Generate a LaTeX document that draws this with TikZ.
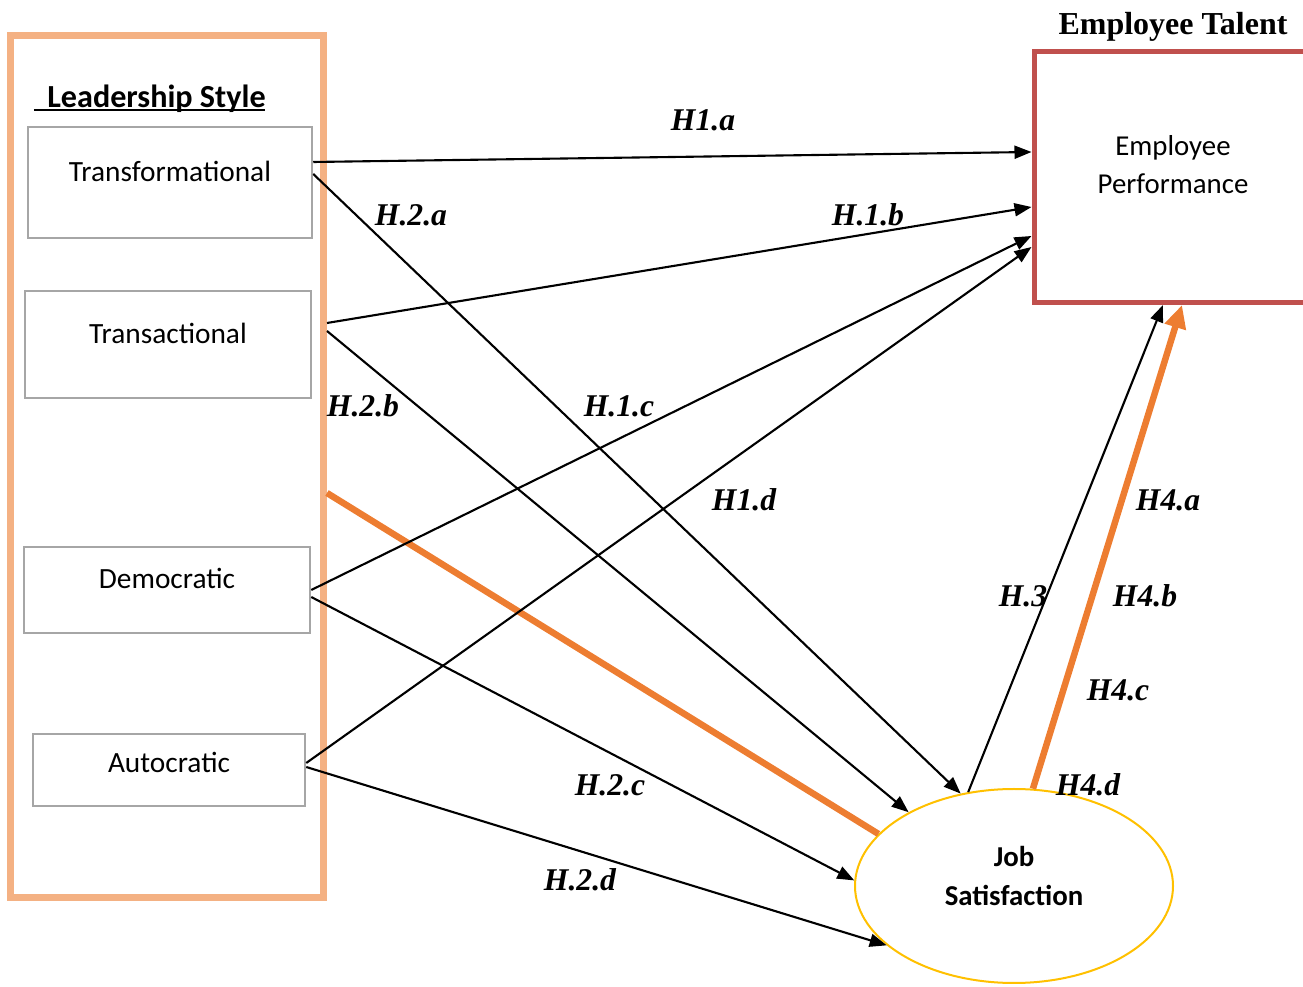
\documentclass[tikz,border=0pt]{standalone}
\usepackage{fontspec}
\setmainfont{Liberation Serif}
\newfontfamily\calibri{Carlito}
\usepackage{xcolor}
\usetikzlibrary{arrows.meta,positioning,calc,shapes.geometric}
\definecolor{frameorange}{HTML}{F4B183}
\definecolor{lineorange}{HTML}{ED7D31}
\definecolor{boxred}{HTML}{C0504D}
\definecolor{ellyellow}{HTML}{FFC000}
\definecolor{boxgray}{HTML}{A6A6A6}

\begin{document}
\begin{tikzpicture}[x=1cm,y=1cm,
  stylebox/.style={draw=boxgray,line width=0.05cm,text depth=0.46cm,
    font=\calibri\fontsize{16.7}{20}\selectfont},
  hyp/.style={font=\bfseries\itshape\fontsize{18}{20}\selectfont},
  link/.style={line width=1.2pt,-{Triangle[length=0.34cm,width=0.26cm]}},
  biglink/.style={draw=lineorange,line width=0.13cm}]
  % Leitungsstile links, Ergebnisse rechts.
  \useasboundingbox (0,0) rectangle (26.06,19.74);
  \node[draw=frameorange,line width=0.14cm,minimum width=6.26cm,
        minimum height=17.25cm] (lead) at (3.34,10.41) {};
  \node[font=\calibri\bfseries\fontsize{18.3}{20}\selectfont] (leadtitle) at (3.13,17.77)
    {Leadership Style};
  \draw[line width=0.05cm] (0.68,17.54) -- (5.30,17.54);
  \node[stylebox,minimum width=5.68cm,minimum height=2.22cm] (transf) at (3.40,16.09) {Transformational};
  \node[stylebox,minimum width=5.72cm,minimum height=2.14cm] (transa) at (3.36,12.85) {Transactional};
  \node[stylebox,minimum width=5.72cm,minimum height=1.72cm] (democ) at (3.34,7.94) {Democratic};
  \node[stylebox,minimum width=5.44cm,minimum height=1.44cm,text depth=0.3cm] (autoc) at (3.38,4.34) {Autocratic};

  \node[font=\bfseries\fontsize{18.2}{20}\selectfont] (talent) at (23.46,19.20) {Employee Talent};
  \node[draw=boxred,line width=0.1cm,minimum width=5.56cm,minimum height=5.02cm,
        align=center,text depth=0.5cm,font=\calibri\fontsize{16.4}{21.5}\selectfont]
    (perf) at (23.46,16.20) {Employee\\Performance};
  \node[ellipse,draw=ellyellow,line width=0.04cm,minimum width=6.36cm,minimum height=3.88cm,
        align=center,text depth=0.4cm,font=\calibri\bfseries\fontsize{16.4}{22}\selectfont]
    (job) at (20.28,2.02) {Job\\Satisfaction};

  \draw[biglink] (lead.east |- 0,9.88) -- (job.159);
  \draw[link] (transf.east |- 0,16.50) -- (perf.west |- 0,16.70);
  \draw[link] (transf.east |- 0,16.26) -- (job.120);
  \draw[link] (lead.east |- 0,13.28) -- (perf.west |- 0,15.60);
  \draw[link] (lead.east |- 0,13.12) -- (job.145);
  \draw[link] (democ.east |- 0,7.94) -- (perf.west |- 0,15.02);
  \draw[link] (democ.east |- 0,7.80) -- (job.178);
  \draw[link] (autoc.east |- 0,4.48) -- (perf.west |- 0,14.80);
  \draw[link] (autoc.east |- 0,4.40) -- (job.205);
  \draw[link] (job.116) -- (23.26,0 |- perf.south);
  \draw[biglink,-{Triangle[length=0.46cm,width=0.42cm]}] (job.79) -- (23.64,0 |- perf.south);

  \node[hyp] (h1a) at (14.06,17.34) {H1.a};
  \node[hyp] (h2a) at (8.22,15.44) {H.2.a};
  \node[hyp] (h1b) at (17.36,15.44) {H.1.b};
  \node[hyp] (h2b) at (7.26,11.62) {H.2.b};
  \node[hyp] (h1c) at (12.38,11.62) {H.1.c};
  \node[hyp] (h1d) at (14.88,9.74) {H1.d};
  \node[hyp] (h4a) at (23.36,9.74) {H4.a};
  \node[hyp] (h3) at (20.46,7.82) {H.3};
  \node[hyp] (h4b) at (22.90,7.82) {H4.b};
  \node[hyp] (h4c) at (22.36,5.94) {H4.c};
  \node[hyp] (h4d) at (21.76,4.04) {H4.d};
  \node[hyp] (h2c) at (12.20,4.04) {H.2.c};
  \node[hyp] (h2d) at (11.60,2.14) {H.2.d};
\end{tikzpicture}
\end{document}
